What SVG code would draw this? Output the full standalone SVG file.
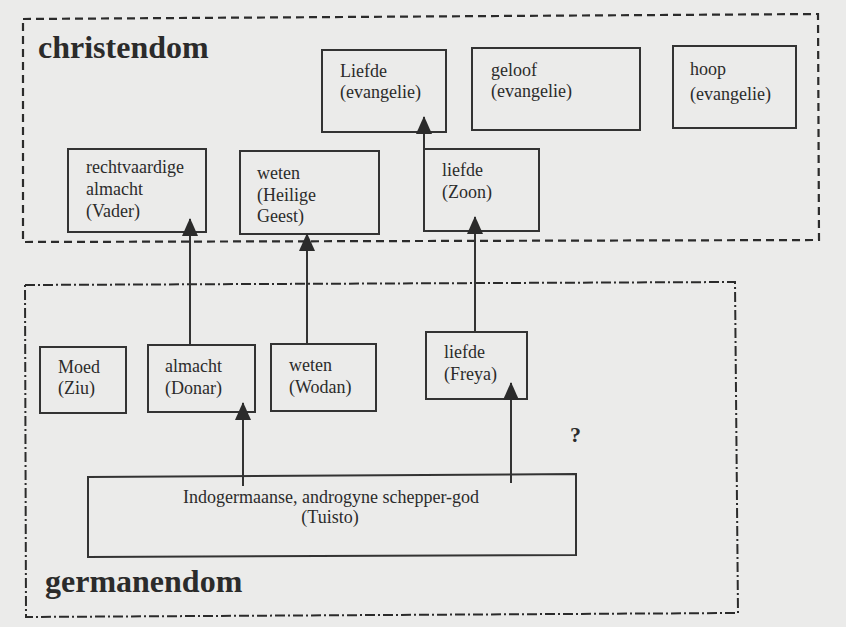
<svg xmlns="http://www.w3.org/2000/svg" width="846" height="627" viewBox="0 0 846 627">
<style>
.box{fill:none;stroke:#333;stroke-width:2}
.t{font-family:'Liberation Serif','DejaVu Serif',serif;font-size:18px;fill:#2b2b2b}
.h{font-family:'Liberation Serif','DejaVu Serif',serif;font-size:32px;font-weight:bold;fill:#2b2b2b}
.con{stroke:#333;stroke-width:2;fill:none;marker-end:url(#ah)}
</style>
<defs>
<marker id="ah" markerUnits="userSpaceOnUse" markerWidth="18" markerHeight="16" refX="17" refY="8" orient="auto" viewBox="0 0 18 16">
<path d="M0,0 L18,8 L0,16 Z" fill="#2b2b2b"/>
</marker>
</defs>
<rect width="846" height="627" fill="#ebebea"/>
<g id="christendom">
<path d="M23,19 L818,14 L819,240 L23,242 Z" fill="none" stroke="#2b2b2b" stroke-width="2.2" stroke-dasharray="8,5"/>
<text class="h" x="38" y="58">christendom</text>
</g>
<g id="germanendom">
<path d="M25,285 L735,282 L738,613 L26,617 Z" fill="none" stroke="#2b2b2b" stroke-width="2" stroke-dasharray="10,3,2,3"/>
<text class="h" x="45" y="592">germanendom</text>
</g>
<g id="liefde-evangelie"><rect class="box" x="322" y="50" width="124" height="82"/><text class="t" x="340" y="77">Liefde</text><text class="t" x="340" y="98">(evangelie)</text></g>
<g id="geloof"><rect class="box" x="472" y="48" width="168" height="82"/><text class="t" x="491" y="76">geloof</text><text class="t" x="491" y="97">(evangelie)</text></g>
<g id="hoop"><rect class="box" x="673" y="46" width="123" height="82"/><text class="t" x="690" y="75">hoop</text><text class="t" x="690" y="100">(evangelie)</text></g>
<g id="vader"><rect class="box" x="68" y="149" width="138" height="83"/><text class="t" x="86" y="173">rechtvaardige</text><text class="t" x="86" y="195">almacht</text><text class="t" x="86" y="217">(Vader)</text></g>
<g id="geest"><rect class="box" x="240" y="151" width="139" height="83"/><text class="t" x="257" y="179">weten</text><text class="t" x="257" y="201">(Heilige</text><text class="t" x="257" y="222">Geest)</text></g>
<g id="zoon"><rect class="box" x="424" y="149" width="115" height="82"/><text class="t" x="442" y="176">liefde</text><text class="t" x="442" y="198">(Zoon)</text></g>
<g id="ziu"><rect class="box" x="40" y="347" width="86" height="66"/><text class="t" x="58" y="373">Moed</text><text class="t" x="58" y="394">(Ziu)</text></g>
<g id="donar"><rect class="box" x="148" y="345" width="107" height="67"/><text class="t" x="165" y="372">almacht</text><text class="t" x="165" y="394">(Donar)</text></g>
<g id="wodan"><rect class="box" x="271" y="344" width="105" height="67"/><text class="t" x="289" y="371">weten</text><text class="t" x="289" y="393">(Wodan)</text></g>
<g id="freya"><rect class="box" x="426" y="332" width="101" height="67"/><text class="t" x="444" y="358">liefde</text><text class="t" x="444" y="380">(Freya)</text></g>
<g id="tuisto"><path class="box" d="M88,477 L576,474 L576,555 L88,557 Z"/><text class="t" x="331" y="503" text-anchor="middle">Indogermaanse, androgyne schepper-god</text><text class="t" x="330" y="523" text-anchor="middle">(Tuisto)</text></g>
<text id="q" class="h" x="570" y="442" style="font-size:22px">?</text>
<g id="connectors">
<path class="con" d="M424,149 L424,117"/>
<path class="con" d="M190,346 L190,219"/>
<path class="con" d="M307,345 L307,234"/>
<path class="con" d="M475,332 L475,217"/>
<path class="con" d="M243,486 L243,403"/>
<path class="con" d="M511,483 L511,383"/>
</g>
</svg>
